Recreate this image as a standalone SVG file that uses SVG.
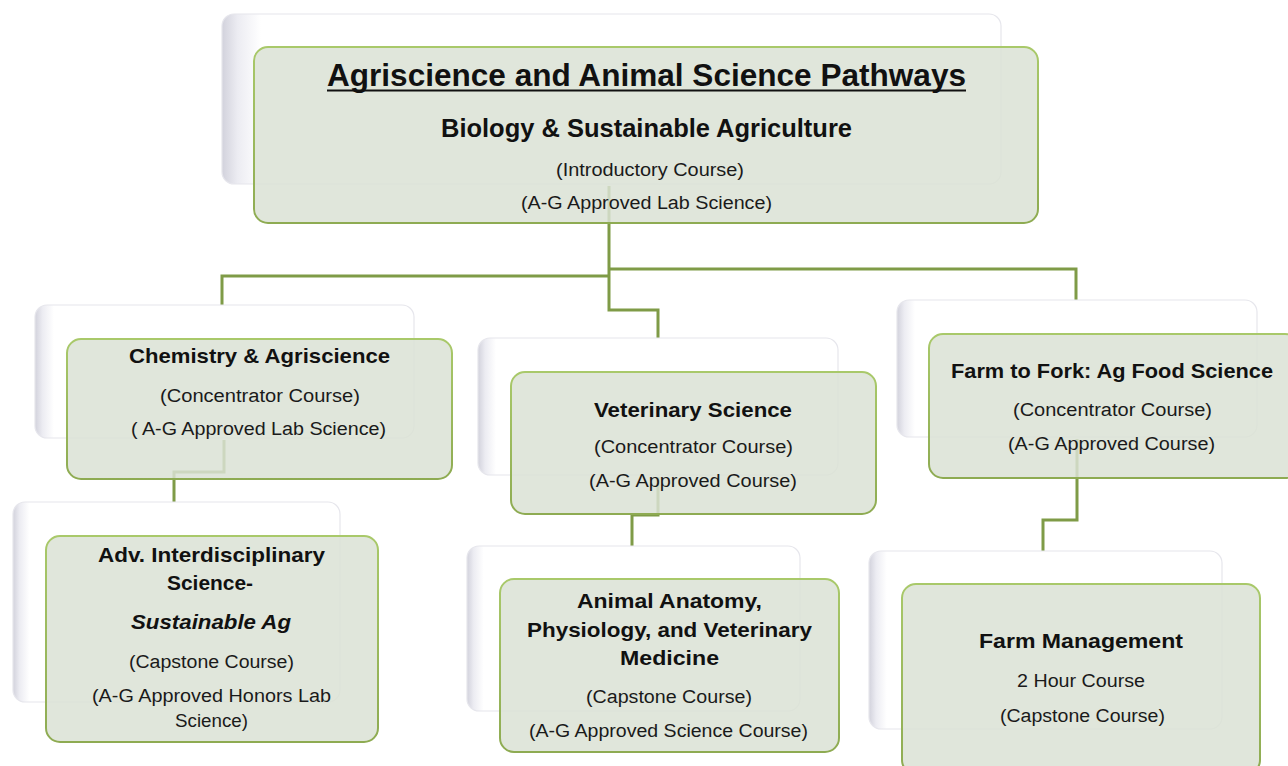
<svg xmlns="http://www.w3.org/2000/svg" width="1288" height="766" viewBox="0 0 1288 766">
<defs>
<linearGradient id="backGrad" x1="0" y1="0" x2="1" y2="0">
<stop offset="0" stop-color="#d2d2dc"/>
<stop offset="0.02" stop-color="#ececf2"/>
<stop offset="0.05" stop-color="#ffffff"/>
<stop offset="1" stop-color="#ffffff"/>
</linearGradient>
<linearGradient id="frontStroke" x1="0" y1="0" x2="0" y2="1">
<stop offset="0" stop-color="#a9c96a"/>
<stop offset="1" stop-color="#8eab52"/>
</linearGradient>
<style>
.back{fill:url(#backGrad);stroke:#e6e6ec;stroke-width:1.2}
.front{fill:#dbe2d5;fill-opacity:0.85;stroke:url(#frontStroke);stroke-width:2}
.conn{fill:none;stroke:#7f9b47;stroke-width:3;stroke-linejoin:miter}
text{font-family:"Liberation Sans",Arial,sans-serif;fill:#111;text-anchor:middle}
.t{font-size:31px;font-weight:bold}
.h1{font-size:25px;font-weight:bold}
.h{font-size:21px;font-weight:bold}
.hi{font-size:21px;font-weight:bold;font-style:italic}
.s{font-size:18px;fill:#1a1a1a}
</style>
</defs>
<g id="connectors">
<path class="conn" d="M609,186 V310 H658 V338"/>
<path class="conn" d="M609,276 H222 V305"/>
<path class="conn" d="M609,269 H1076 V300"/>
<path class="conn" d="M224,440 V472 H174 V503"/>
<path class="conn" d="M658,477 V515 H632 V546"/>
<path class="conn" d="M1077,439 V520 H1043 V551"/>
</g>
<g id="node-top">
<rect class="back" x="222" y="14" width="779" height="170" rx="12"/>
<rect class="front" x="254" y="47" width="784" height="176" rx="14"/>
<text class="t" x="646.5" y="86" textLength="639" lengthAdjust="spacingAndGlyphs">Agriscience and Animal Science Pathways</text>
<line x1="327" y1="90.5" x2="966" y2="90.5" stroke="#111" stroke-width="2"/>
<text class="h1" x="646.5" y="137" textLength="411" lengthAdjust="spacingAndGlyphs">Biology &amp; Sustainable Agriculture</text>
<text class="s" x="650" y="176" textLength="188" lengthAdjust="spacingAndGlyphs">(Introductory Course)</text>
<text class="s" x="646.5" y="209" textLength="251" lengthAdjust="spacingAndGlyphs">(A-G Approved Lab Science)</text>
</g>
<g id="node-chem">
<rect class="back" x="35" y="305" width="379" height="133" rx="12"/>
<rect class="front" x="67" y="339" width="385" height="140" rx="14"/>
<text class="h" x="259.5" y="363" textLength="261" lengthAdjust="spacingAndGlyphs">Chemistry &amp; Agriscience</text>
<text class="s" x="260" y="402" textLength="200" lengthAdjust="spacingAndGlyphs">(Concentrator Course)</text>
<text class="s" x="258.5" y="435" textLength="255" lengthAdjust="spacingAndGlyphs">( A-G Approved Lab Science)</text>
</g>
<g id="node-vet">
<rect class="back" x="478" y="338" width="360" height="137" rx="12"/>
<rect class="front" x="511" y="372" width="365" height="142" rx="14"/>
<text class="h" x="693" y="417" textLength="198" lengthAdjust="spacingAndGlyphs">Veterinary Science</text>
<text class="s" x="693.5" y="453" textLength="199" lengthAdjust="spacingAndGlyphs">(Concentrator Course)</text>
<text class="s" x="693" y="487" textLength="208" lengthAdjust="spacingAndGlyphs">(A-G Approved Course)</text>
</g>
<g id="node-fork">
<rect class="back" x="897" y="300" width="360" height="137" rx="12"/>
<rect class="front" x="929" y="334" width="370" height="144" rx="14"/>
<text class="h" x="1112" y="378" textLength="322" lengthAdjust="spacingAndGlyphs">Farm to Fork: Ag Food Science</text>
<text class="s" x="1112.5" y="416" textLength="199" lengthAdjust="spacingAndGlyphs">(Concentrator Course)</text>
<text class="s" x="1111.5" y="450" textLength="207" lengthAdjust="spacingAndGlyphs">(A-G Approved Course)</text>
</g>
<g id="node-adv">
<rect class="back" x="13" y="502" width="327" height="200" rx="12"/>
<rect class="front" x="46" y="536" width="332" height="206" rx="14"/>
<text class="h" x="211.5" y="562" textLength="227" lengthAdjust="spacingAndGlyphs">Adv. Interdisciplinary</text>
<text class="h" x="210" y="590" textLength="86" lengthAdjust="spacingAndGlyphs">Science-</text>
<text class="hi" x="211" y="629" textLength="160" lengthAdjust="spacingAndGlyphs">Sustainable Ag</text>
<text class="s" x="211.5" y="668" textLength="165" lengthAdjust="spacingAndGlyphs">(Capstone Course)</text>
<text class="s" x="211.5" y="702" textLength="239" lengthAdjust="spacingAndGlyphs">(A-G Approved Honors Lab</text>
<text class="s" x="211.5" y="727" textLength="73" lengthAdjust="spacingAndGlyphs">Science)</text>
</g>
<g id="node-anatomy">
<rect class="back" x="467" y="546" width="333" height="165" rx="12"/>
<rect class="front" x="500" y="579" width="339" height="173" rx="14"/>
<text class="h" x="669.5" y="608" textLength="185" lengthAdjust="spacingAndGlyphs">Animal Anatomy,</text>
<text class="h" x="669.5" y="637" textLength="285" lengthAdjust="spacingAndGlyphs">Physiology, and Veterinary</text>
<text class="h" x="669.5" y="665" textLength="99" lengthAdjust="spacingAndGlyphs">Medicine</text>
<text class="s" x="669" y="703" textLength="166" lengthAdjust="spacingAndGlyphs">(Capstone Course)</text>
<text class="s" x="668.5" y="737" textLength="279" lengthAdjust="spacingAndGlyphs">(A-G Approved Science Course)</text>
</g>
<g id="node-farm">
<rect class="back" x="869" y="551" width="353" height="178" rx="12"/>
<rect class="front" x="902" y="584" width="358" height="190" rx="14"/>
<text class="h" x="1081" y="648" textLength="204" lengthAdjust="spacingAndGlyphs">Farm Management</text>
<text class="s" x="1081" y="687" textLength="128" lengthAdjust="spacingAndGlyphs">2 Hour Course</text>
<text class="s" x="1082.5" y="722" textLength="165" lengthAdjust="spacingAndGlyphs">(Capstone Course)</text>
</g>
</svg>
